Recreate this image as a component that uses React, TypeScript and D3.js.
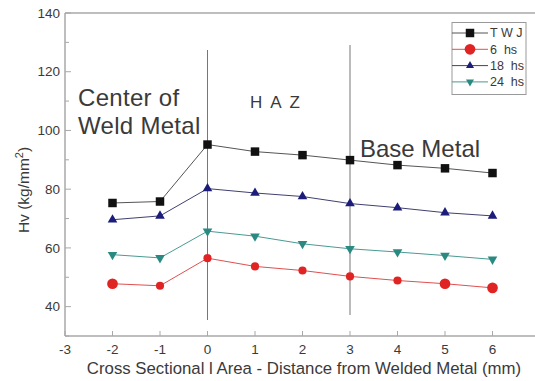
import React from 'react'
import * as d3 from 'd3'

// distances (mm) along the cross section
const distances = [-2, -1, 0, 1, 2, 3, 4, 5, 6]

const seriesNames = ['T W J', '6  hs', '18  hs', '24  hs']
const twj = [75.3, 75.8, 95.2, 92.8, 91.6, 89.9, 88.2, 87.1, 85.5]
const hs6 = [47.8, 47.1, 56.5, 53.7, 52.3, 50.3, 48.9, 47.8, 46.4]
const hs18 = [69.6, 70.9, 80.2, 78.7, 77.5, 75.1, 73.7, 72.0, 70.9]
const hs24 = [57.7, 56.6, 65.7, 64.0, 61.4, 59.7, 58.6, 57.4, 56.1]

const xTicks = [-3, -2, -1, 0, 1, 2, 3, 4, 5, 6]
const yTicks = [40, 60, 80, 100, 120, 140]
const zoneLines = [0, 3]

const W = 535
const H = 381
const font = 'Liberation Sans, Arial, sans-serif'
const axisGray = '#a8a8a8'
const textGray = '#3a3a3a'

// look of each series: marker, colours
const styles = [
  { symbol: d3.symbolSquare, size: 72, fill: '#111', line: '#555' },
  { symbol: d3.symbolCircle, size: 52, fill: '#e02424', line: '#e05050' },
  { symbol: d3.symbolTriangle, size: 40, fill: '#1c1c7a', line: '#404070' },
  { symbol: d3.symbolTriangle, size: 40, fill: '#2a8a82', line: '#4a9a92', flip: true },
]
// the red circles drawn larger in the original figure
const bigCircleAt = [-2, 5, 6]

export default function App() {
  const x = d3.scaleLinear().domain([-3, 7]).range([65, 540])
  const y = d3.scaleLinear().domain([30, 140]).range([336, 13])
  const values = [twj, hs6, hs18, hs24]
  const line = d3.line<number>().x((_, i) => x(distances[i])).y(d => y(d))
  const yMinor = d3.range(30, 141, 10).filter(v => !yTicks.includes(v))

  const marker = (s: number, size?: number) =>
    d3.symbol().type(styles[s].symbol).size(size ?? styles[s].size)()

  return (
    <svg width={W} height={H} style={{ position: 'absolute', left: 0, top: 0, background: '#fff' }}
      fontFamily={font}>
      {/* frame */}
      <line x1={65} x2={535} y1={13} y2={13} stroke={axisGray} strokeWidth={1.5} />
      <line x1={65} x2={65} y1={13} y2={336} stroke={axisGray} strokeWidth={1.5} />
      <line x1={65} x2={535} y1={336} y2={336} stroke={axisGray} strokeWidth={1.5} />

      {yTicks.map(t => (
        <g key={'y' + t}>
          <line x1={65} x2={71} y1={y(t)} y2={y(t)} stroke={axisGray} />
          <text x={60} y={y(t)} dy="0.35em" textAnchor="end" fontSize={13.5} fill={textGray}>{t}</text>
        </g>
      ))}
      {yMinor.map(t => (
        <line key={'ym' + t} x1={65} x2={69} y1={y(t)} y2={y(t)} stroke={axisGray} />
      ))}
      {xTicks.map(t => (
        <g key={'x' + t}>
          <line x1={x(t)} x2={x(t)} y1={336} y2={331} stroke={axisGray} />
          <text x={x(t)} y={354} textAnchor="middle" fontSize={13.5} fill={textGray}>{t}</text>
        </g>
      ))}

      {/* zone separators */}
      <line x1={x(zoneLines[0])} x2={x(zoneLines[0])} y1={50} y2={320} stroke="#777" />
      <line x1={x(zoneLines[1])} x2={x(zoneLines[1])} y1={45} y2={315} stroke="#777" />

      <text x={78} y={106} fontSize={24} letterSpacing={0.3} fill={textGray}>Center of</text>
      <text x={78} y={134} fontSize={24} letterSpacing={0.3} fill={textGray}>Weld Metal</text>
      <text x={250} y={108} fontSize={17} letterSpacing={8} fill={textGray}>HAZ</text>
      <text x={360} y={157} fontSize={24} fill={textGray}>Base Metal</text>

      {values.map((v, s) => (
        <path key={'l' + s} d={line(v) ?? ''} fill="none" stroke={styles[s].line} strokeWidth={1} />
      ))}
      {values.map((v, s) =>
        v.map((d, i) => {
          const big = s === 1 && bigCircleAt.includes(distances[i])
          return (
            <path key={'m' + s + '-' + i} d={marker(s, big ? 90 : undefined) ?? ''}
              transform={`translate(${x(distances[i])},${y(d)})${styles[s].flip ? ' rotate(180)' : ''}`}
              fill={styles[s].fill} />
          )
        })
      )}

      {/* legend */}
      <rect x={452} y={22.5} width={74} height={72} fill="#fff" stroke="#999" />
      {seriesNames.map((n, s) => {
        const ly = 33 + s * 16.3
        return (
          <g key={'lg' + s}>
            <line x1={452} x2={488} y1={ly} y2={ly} stroke={styles[s].line} />
            <path d={marker(s, s === 1 ? 90 : s === 0 ? 72 : 28) ?? ''}
              transform={`translate(470,${ly})${styles[s].flip ? ' rotate(180)' : ''}`}
              fill={styles[s].fill} />
            <text x={490} y={ly} dy="0.35em" fontSize={12.5} fill={textGray}
              style={{ whiteSpace: 'pre' }}>{n}</text>
          </g>
        )
      })}

      {/* axis titles */}
      <text transform="translate(29,190) rotate(-90)" textAnchor="middle" fontSize={15.5} fill={textGray}>
        Hv (kg/mm<tspan dy={-6} fontSize={11}>2</tspan><tspan dy={6}>)</tspan>
      </text>
      <text x={304} y={374} textAnchor="middle" fontSize={16.8} fill={textGray}>
        Cross Sectional l Area - Distance from Welded Metal (mm)
      </text>
    </svg>
  )
}
